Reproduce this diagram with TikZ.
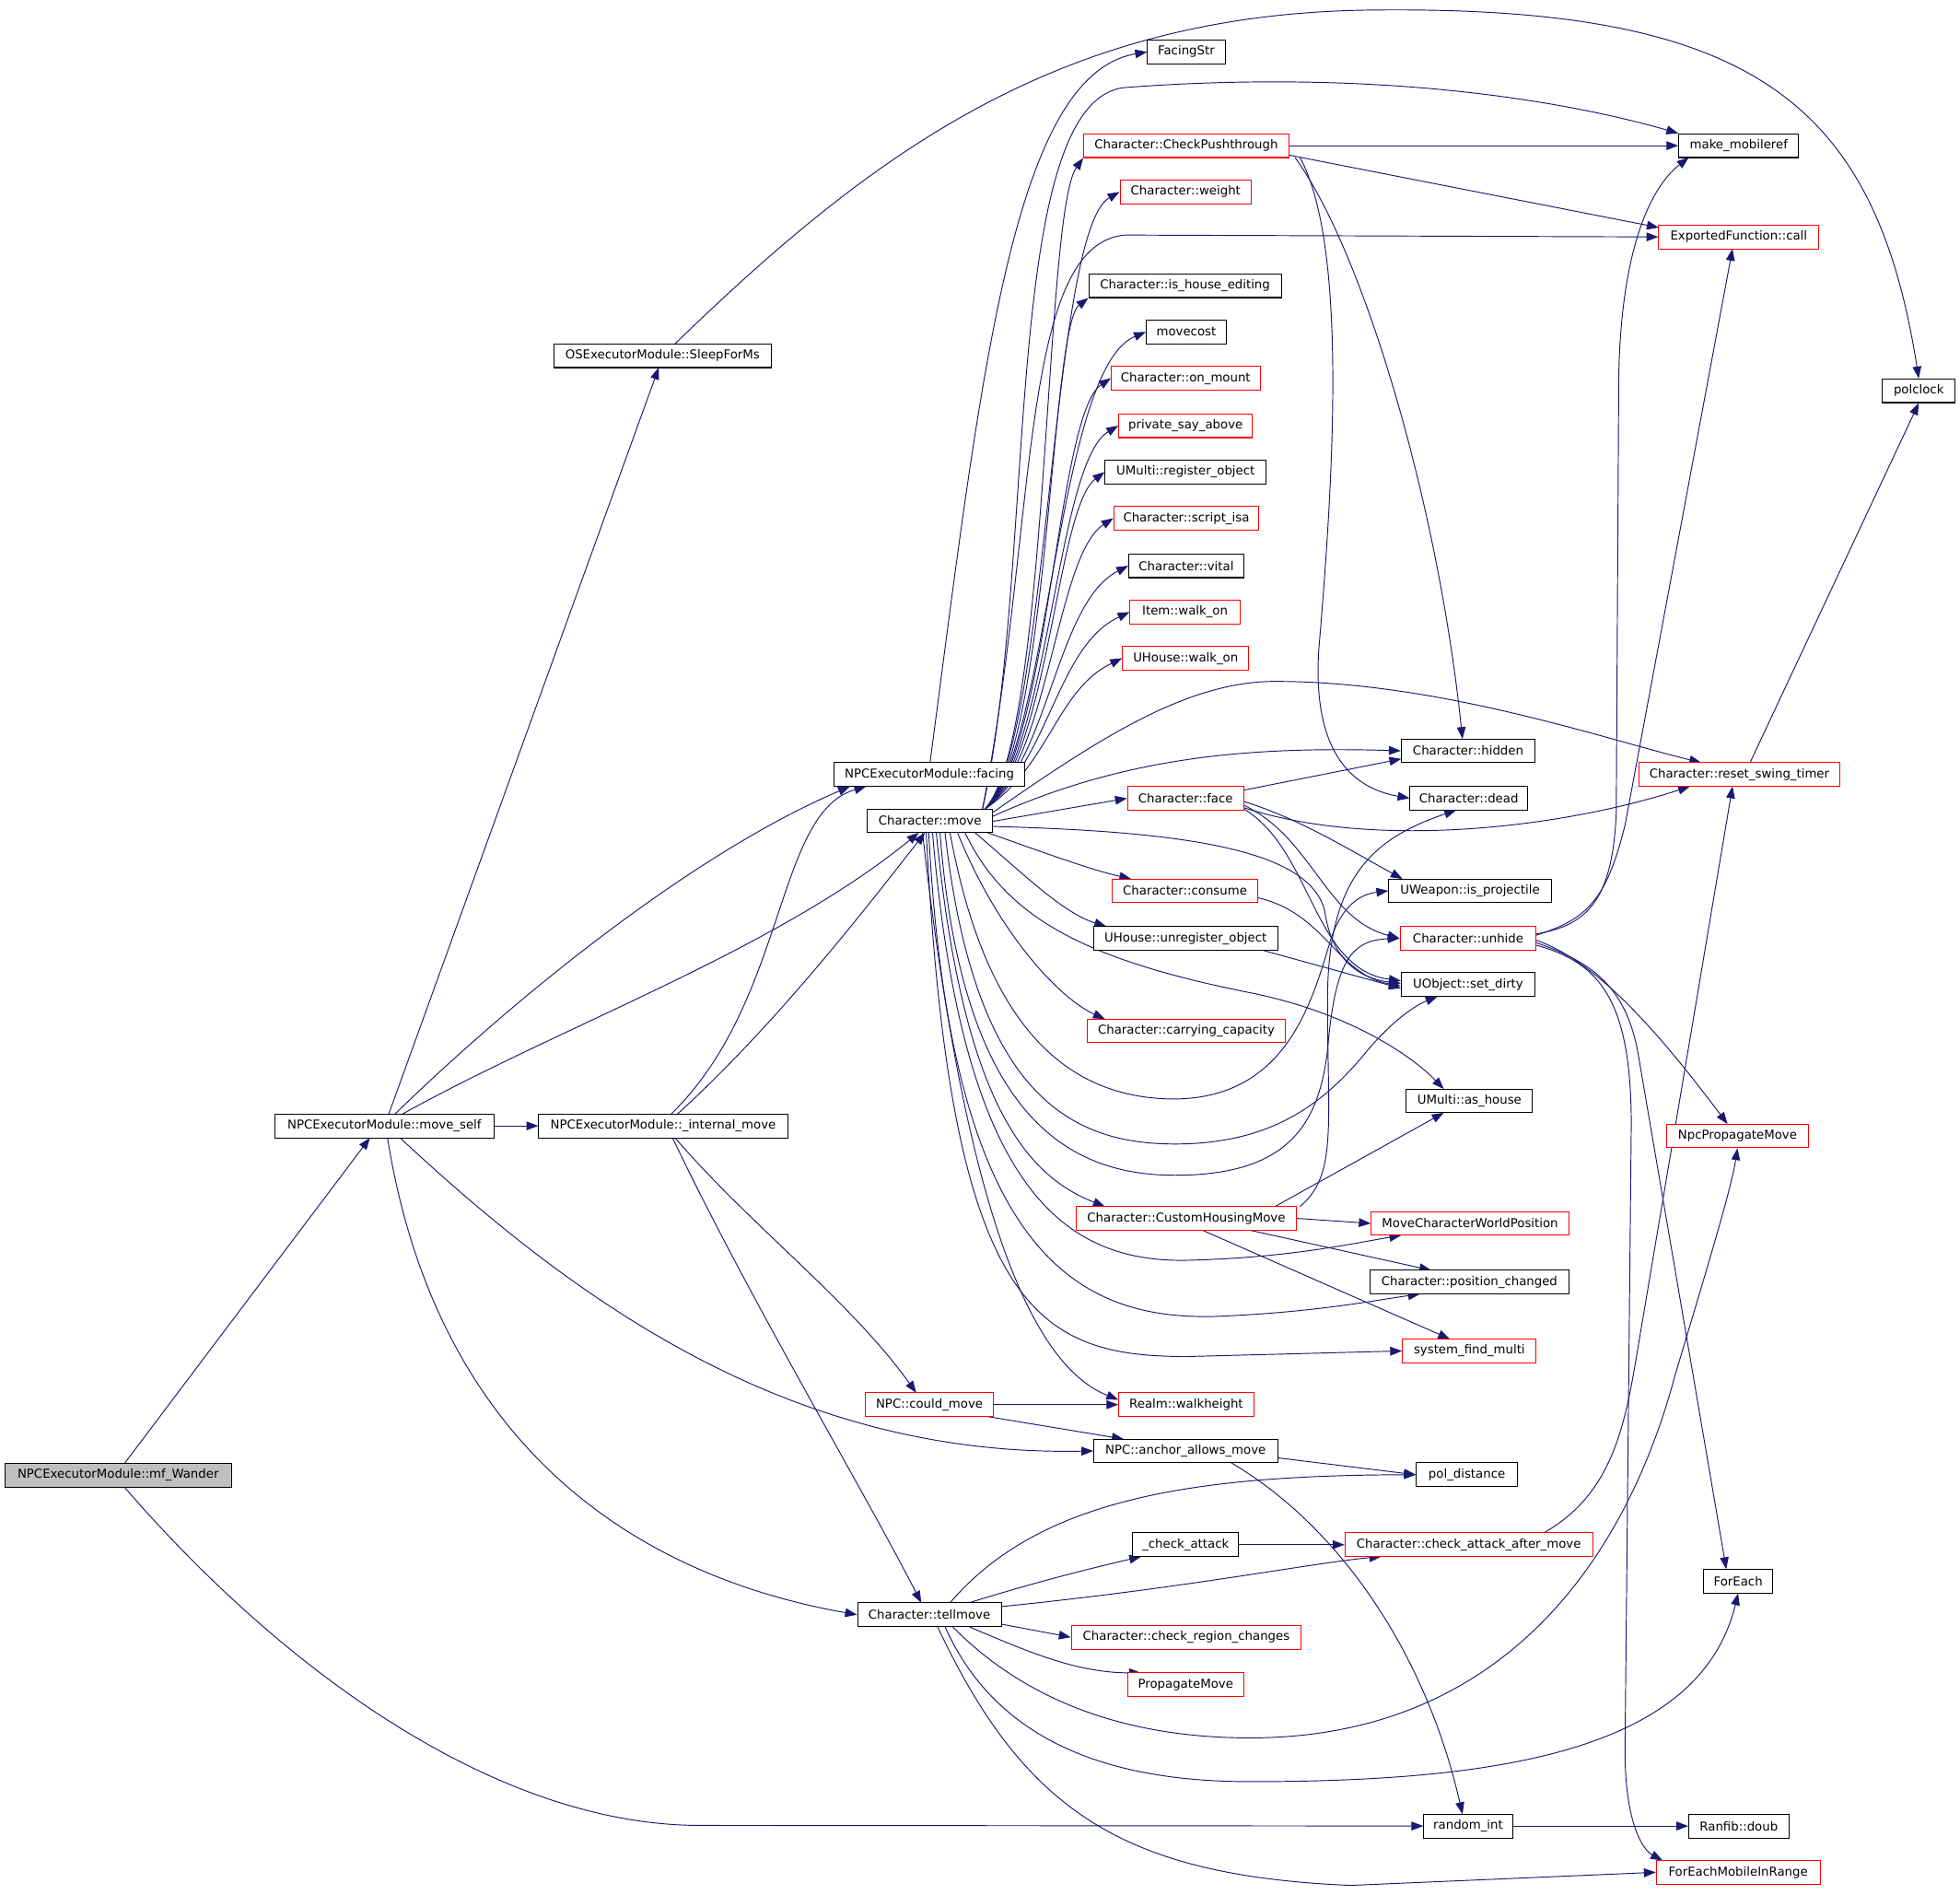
\documentclass[tikz,border=0pt]{standalone}
\usepackage{fontspec}
\setmainfont{DejaVu Sans}
\usetikzlibrary{arrows.meta,backgrounds}
\definecolor{edgeblue}{RGB}{25,25,112}
\definecolor{boxgray}{RGB}{191,191,191}
\begin{document}
\begin{tikzpicture}[x=1pt,y=-1pt,
  box/.style={draw=black, fill=white, line width=0.75pt, minimum height=19pt, inner sep=0pt, font=\fontsize{9.8}{11}\selectfont},
  rbox/.style={box, draw=red},
  gbox/.style={box, fill=boxgray},
  edge/.style={draw=edgeblue, line width=0.7pt, -{Triangle[length=9.5pt,width=7pt]}}]
\useasboundingbox (0,0) rectangle (1568,1515);
% nodes
\node[gbox, minimum width=181pt] (wander) at (94.5,1180) {NPCExecutorModule::mf\_Wander};
\node[box, minimum width=175pt] (moveself) at (307.5,900.5) {NPCExecutorModule::move\_self};
\node[box, minimum width=174pt] (sleep) at (530,284.5) {OSExecutorModule::SleepForMs};
\node[box, minimum width=199pt] (intmove) at (530.5,900.5) {NPCExecutorModule::\_internal\_move};
\node[box, minimum width=153pt] (facing) at (743.5,619.5) {NPCExecutorModule::facing};
\node[box, minimum width=100pt] (cmove) at (744,656.5) {Character::move};
\node[box, minimum width=115pt] (tellmove) at (743.5,1291.5) {Character::tellmove};
\node[rbox, minimum width=103pt] (couldmove) at (743.5,1123.5) {NPC::could\_move};
\node[box, minimum width=62pt] (facingstr) at (949,41.5) {FacingStr};
\node[rbox, minimum width=164pt] (checkpush) at (949,116.5) {Character::CheckPushthrough};
\node[rbox, minimum width=105pt] (weight) at (948.5,153.5) {Character::weight};
\node[box, minimum width=154pt] (ishouse) at (948,228.5) {Character::is\_house\_editing};
\node[box, minimum width=64pt] (movecost) at (949,265.5) {movecost};
\node[rbox, minimum width=119pt] (onmount) at (948.5,302.5) {Character::on\_mount};
\node[rbox, minimum width=107pt] (privsay) at (948.5,340.5) {private\_say\_above};
\node[box, minimum width=129pt] (regobj) at (948.5,377.5) {UMulti::register\_object};
\node[rbox, minimum width=116pt] (scriptisa) at (949,414.5) {Character::script\_isa};
\node[box, minimum width=92pt] (vital) at (949,452.5) {Character::vital};
\node[rbox, minimum width=88pt] (itemwalk) at (948,489.5) {Item::walk\_on};
\node[rbox, minimum width=101pt] (uhousewalk) at (948.5,526.5) {UHouse::walk\_on};
\node[rbox, minimum width=93pt] (face) at (948.5,638.5) {Character::face};
\node[rbox, minimum width=116pt] (consume) at (948,712.5) {Character::consume};
\node[box, minimum width=147pt] (unreg) at (948.5,750.5) {UHouse::unregister\_object};
\node[rbox, minimum width=158pt] (carrying) at (949,824.5) {Character::carrying\_capacity};
\node[rbox, minimum width=176pt] (custom) at (949,974.5) {Character::CustomHousingMove};
\node[rbox, minimum width=108pt] (walkheight) at (949,1123.5) {Realm::walkheight};
\node[box, minimum width=147pt] (anchor) at (948.5,1160.5) {NPC::anchor\_allows\_move};
\node[box, minimum width=85pt] (checkattack) at (948.5,1235.5) {\_check\_attack};
\node[rbox, minimum width=184pt] (regionchg) at (949,1309.5) {Character::check\_region\_changes};
\node[rbox, minimum width=93pt] (propagate) at (948.5,1347.5) {PropagateMove};
\node[box, minimum width=96pt] (mobileref) at (1391,116.5) {make\_mobileref};
\node[rbox, minimum width=128pt] (expcall) at (1391,189.5) {ExportedFunction::call};
\node[box, minimum width=58pt] (polclock) at (1535,312.5) {polclock};
\node[box, minimum width=107pt] (hidden) at (1174.5,600.5) {Character::hidden};
\node[box, minimum width=94pt] (dead) at (1175,638.5) {Character::dead};
\node[rbox, minimum width=161pt] (resetswing) at (1391.5,619.5) {Character::reset\_swing\_timer};
\node[box, minimum width=130pt] (isproj) at (1176,712.5) {UWeapon::is\_projectile};
\node[rbox, minimum width=109pt] (unhide) at (1174.5,750.5) {Character::unhide};
\node[box, minimum width=107pt] (setdirty) at (1174.5,787.5) {UObject::set\_dirty};
\node[box, minimum width=101pt] (ashouse) at (1175.5,880.5) {UMulti::as\_house};
\node[rbox, minimum width=114pt] (npcprop) at (1390,908.5) {NpcPropagateMove};
\node[rbox, minimum width=158pt] (mcwp) at (1176,978.5) {MoveCharacterWorldPosition};
\node[box, minimum width=159pt] (poschg) at (1175.5,1025.5) {Character::position\_changed};
\node[rbox, minimum width=107pt] (sysfind) at (1175.5,1080.5) {system\_find\_multi};
\node[box, minimum width=81pt] (poldist) at (1173.5,1179.5) {pol\_distance};
\node[rbox, minimum width=198pt] (caam) at (1175,1235.5) {Character::check\_attack\_after\_move};
\node[box, minimum width=55pt] (foreach) at (1390.5,1264.5) {ForEach};
\node[box, minimum width=71pt] (randint) at (1174.5,1460.5) {random\_int};
\node[box, minimum width=80pt] (ranfib) at (1391,1460.5) {Ranfib::doub};
\node[rbox, minimum width=131pt] (femir) at (1390.5,1497.5) {ForEachMobileInRange};
\begin{pgfonlayer}{background}
\fill[white] (0,0) rectangle (1568,1515);
% mf_Wander
\draw[edge] (100,1170) -- (296,910);
\draw[edge] (100,1190) .. controls (230,1340) and (400,1460) .. (560,1460) -- (randint.west);
% move_self
\draw[edge] (311,891) -- (527,294);
\draw[edge] (316,891) .. controls (420,790) and (560,680) .. (680,629);
\draw[edge] (322,891) .. controls (450,820) and (620,760) .. (735,666);
\draw[edge] (moveself.east) -- (intmove.west);
\draw[edge] (310,910) .. controls (345,1130) and (480,1255) .. (tellmove.west);
\draw[edge] (320,910) .. controls (470,1050) and (640,1165) .. (anchor.west);
% _internal_move
\draw[edge] (537,891) .. controls (630,800) and (620,650) .. (693,629);
\draw[edge] (542,891) .. controls (620,820) and (690,730) .. (740,666);
\draw[edge] (540,910) .. controls (600,980) and (680,1040) .. (733,1114);
\draw[edge] (538,910) .. controls (600,1040) and (690,1190) .. (737,1282);
% facing
\draw[edge] (744,610) .. controls (785,300) and (810,60) .. (facingstr.west);
% Character::move fan upward
\draw[edge] (788,647) .. controls (840,590) and (835,170) .. (checkpush.south west);
\draw[edge] (788,647) .. controls (840,592) and (840,185) .. (weight.west);
\draw[edge] (788,647) .. controls (840,594) and (840,262) .. (ishouse.south west);
\draw[edge] (788,647) .. controls (840,596) and (845,295) .. (movecost.west);
\draw[edge] (788,647) .. controls (840,598) and (845,332) .. (onmount.west);
\draw[edge] (788,647) .. controls (840,600) and (845,370) .. (privsay.west);
\draw[edge] (788,647) .. controls (840,602) and (845,407) .. (regobj.west);
\draw[edge] (788,647) .. controls (840,604) and (845,444) .. (scriptisa.west);
\draw[edge] (788,647) .. controls (840,606) and (845,482) .. (vital.west);
\draw[edge] (788,647) .. controls (840,608) and (845,517) .. (itemwalk.west);
\draw[edge] (788,647) .. controls (840,612) and (845,552) .. (uhousewalk.west);
\draw[edge] (786,647) .. controls (830,450) and (800,80) .. (900,70) .. controls (1100,55) and (1250,80) .. (mobileref.north west);
\draw[edge] (786,647) .. controls (830,420) and (815,195) .. (900,188) -- (expcall.west);
\draw[edge] (794,650) .. controls (880,590) and (950,545) .. (1020,545) .. controls (1150,545) and (1280,590) .. (1361,610);
\draw[edge] (794,653) .. controls (900,605) and (1000,597) .. (hidden.west);
% Character::move rightward / downward
\draw[edge] (794,657) -- (face.west);
\draw[edge] (794,661) .. controls (950,665) and (1050,680) .. (1060,730) .. controls (1066,770) and (1090,783) .. ([yshift=1]setdirty.west);
\draw[edge] (790,666) .. controls (830,680) and (870,695) .. (905,703);
\draw[edge] (780,666) .. controls (820,700) and (850,730) .. (885,741);
\draw[edge] (772,666) .. controls (805,735) and (870,768) .. (1000,794) .. controls (1080,810) and (1130,845) .. (1155,871);
\draw[edge] (766,666) .. controls (800,750) and (850,800) .. (884,815);
\draw[edge] (760,666) .. controls (790,830) and (860,879) .. (940,879) .. controls (1030,878) and (1050,800) .. (1065,750) .. controls (1075,722) and (1090,715) .. (isproj.west);
\draw[edge] (756,666) .. controls (780,880) and (860,915) .. (940,915) .. controls (1020,915) and (1060,880) .. (1090,845) .. controls (1110,820) and (1130,805) .. (1150,797);
\draw[edge] (752,666) .. controls (770,900) and (860,940) .. (940,940) .. controls (1030,940) and (1055,900) .. (1062,840) .. controls (1068,770) and (1080,752) .. (unhide.west);
\draw[edge] (749,666) .. controls (770,880) and (820,940) .. (884,965);
\draw[edge] (746,666) .. controls (770,950) and (850,1010) .. (950,1008) .. controls (1030,1006) and (1080,995) .. (1121,988);
\draw[edge] (743,666) .. controls (760,1000) and (860,1055) .. (970,1053) .. controls (1050,1050) and (1100,1040) .. (1136,1035);
\draw[edge] (741,666) .. controls (760,1050) and (830,1085) .. (950,1085) -- (sysfind.west);
\draw[edge] (738,666) .. controls (770,950) and (820,1090) .. ([yshift=4]walkheight.west);
% CheckPushthrough
\draw[edge] (checkpush.east) -- (mobileref.west);
\draw[edge] (1031,124) -- (1327,182);
\draw[edge] (1036,126) .. controls (1090,200) and (1150,400) .. (1170,591);
\draw[edge] (1040,126) .. controls (1080,200) and (1065,400) .. (1055,520) .. controls (1050,600) and (1080,630) .. (dead.west);
% face
\draw[edge] (995,632) -- (1121,607);
\draw[edge] (995,646) .. controls (1100,680) and (1250,662) .. (1352,629);
\draw[edge] (995,641) .. controls (1040,655) and (1080,680) .. (1122,703);
\draw[edge] (995,644) .. controls (1050,670) and (1060,735) .. (unhide.west);
\draw[edge] (995,647) .. controls (1050,680) and (1050,775) .. ([yshift=3]setdirty.west);
% consume, unregister
\draw[edge] (1006,718) .. controls (1060,730) and (1070,780) .. ([yshift=-1]setdirty.west);
\draw[edge] (1010,760) -- ([yshift=-3]setdirty.west);
% CustomHousingMove
\draw[edge] (custom.east) -- (mcwp.west);
\draw[edge] (1000,984) -- (1145,1016);
\draw[edge] (962,984) -- (1160,1071);
\draw[edge] (1020,965) -- (1155,890);
\draw[edge] (1040,965) .. controls (1070,940) and (1062,900) .. (1062,800) .. controls (1062,700) and (1100,670) .. (1165,648);
% could_move, anchor
\draw[edge] (couldmove.east) -- (walkheight.west);
\draw[edge] (790,1133) -- (899,1151);
\draw[edge] (1022,1166) -- (poldist.west);
\draw[edge] (985,1170) .. controls (1070,1220) and (1140,1320) .. (1170,1451);
% tellmove
\draw[edge] (760,1282) .. controls (830,1200) and (950,1180) .. (poldist.west);
\draw[edge] (775,1282) .. controls (830,1265) and (870,1255) .. (913,1245);
\draw[edge] (801,1285) .. controls (950,1270) and (1050,1250) .. (1105,1245);
\draw[edge] (801,1299) -- (regionchg.west);
\draw[edge] (775,1301) .. controls (820,1320) and (860,1338) .. (913,1338);
\draw[edge] (762,1301) .. controls (820,1360) and (900,1390) .. (1000,1390) .. controls (1200,1390) and (1300,1250) .. (1340,1100) .. controls (1370,1000) and (1385,950) .. (npcprop.south);
\draw[edge] (756,1301) .. controls (800,1400) and (900,1425) .. (1000,1425) .. controls (1200,1425) and (1360,1400) .. (foreach.south);
\draw[edge] (750,1301) .. controls (820,1450) and (900,1500) .. (1080,1508) -- (femir.west);
\draw[edge] (checkattack.east) -- (caam.west);
\draw[edge] (1235,1226) .. controls (1290,1195) and (1300,1140) .. (1310,1080) -- (1386,629);
% unhide
\draw[edge] (1229,747) .. controls (1270,740) and (1290,720) .. (1293,650) -- (1295,300) .. controls (1297,200) and (1320,150) .. (1351,126);
\draw[edge] (1229,748) .. controls (1270,735) and (1285,720) .. (1300,660) -- (1386,199);
\draw[edge] (1229,752) .. controls (1280,770) and (1330,830) .. (1382,899);
\draw[edge] (1229,754) .. controls (1275,770) and (1300,790) .. (1310,840) -- (1381,1255);
\draw[edge] (1229,756) .. controls (1280,770) and (1305,800) .. (1305,900) -- (1300,1400) .. controls (1300,1460) and (1315,1480) .. (1330,1488);
% others
\draw[edge] (1400,610) -- (polclock.south);
\draw[edge] (540,275) .. controls (700,120) and (850,10) .. (1100,8) .. controls (1400,5) and (1500,80) .. (polclock.north);
\draw[edge] (randint.east) -- (ranfib.west);
\end{pgfonlayer}
\end{tikzpicture}
\end{document}
